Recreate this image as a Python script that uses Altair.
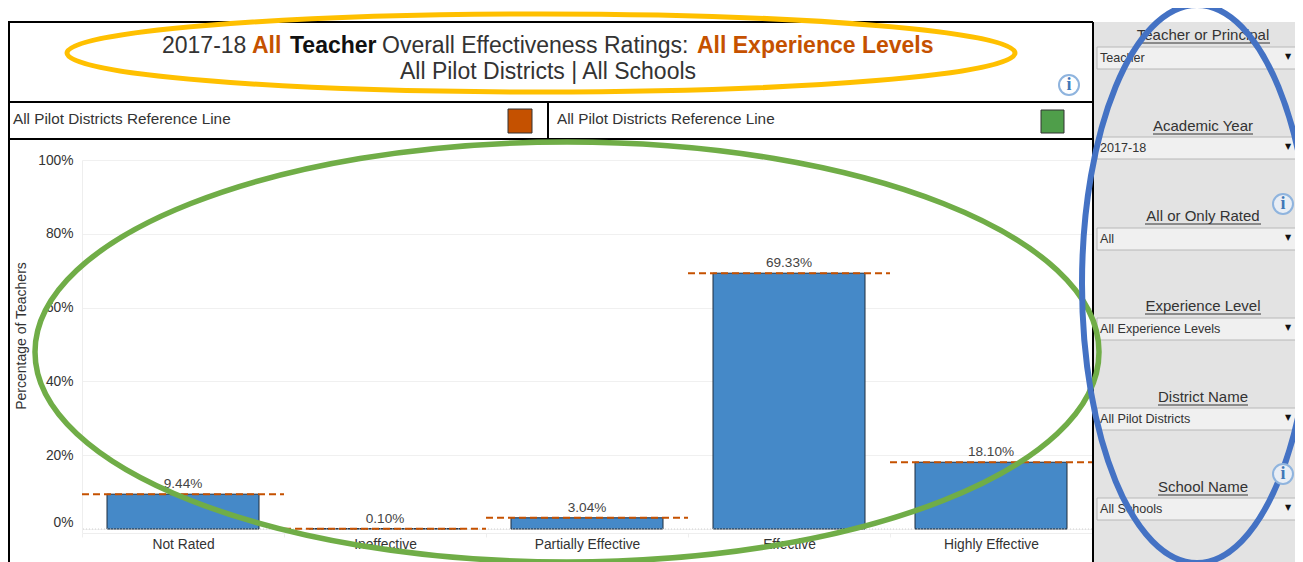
import altair as alt
import pandas as pd

categories = ["Not Rated", "Ineffective", "Partially Effective", "Effective", "Highly Effective"]
teacher_pct = [9.44, 0.10, 3.04, 69.33, 18.10]
reference_pct = [9.44, 0.10, 3.04, 69.33, 18.10]
filter_labels = ["Teacher or Principal", "Academic Year", "All or Only Rated", "Experience Level", "District Name", "School Name"]
filter_values = ["Teacher", "2017-18", "All", "All Experience Levels", "All Pilot Districts", "All Schools"]

FONT = "Liberation Sans"
OX, OY = 82, 160          # plot origin in picture pixels
W, H = 1010, 373
ORANGE = "#c55100"
one = alt.Data(values=[{"a": 1}])
layers = []


def rect(x0, y0, x1, y1, fill, stroke=None, sw=0):
    kw = {"fill": fill}
    if stroke:
        kw.update(stroke=stroke, strokeWidth=sw)
    layers.append(alt.Chart(one).mark_rect(**kw).encode(
        x=alt.value(x0 - OX), x2=alt.value(x1 - OX), y=alt.value(y0 - OY), y2=alt.value(y1 - OY)))


def line(x0, y0, x1, y1, color="#000000", sw=2):
    layers.append(alt.Chart(one).mark_rule(color=color, strokeWidth=sw).encode(
        x=alt.value(x0 - OX), x2=alt.value(x1 - OX), y=alt.value(y0 - OY), y2=alt.value(y1 - OY)))


def text(x, y, s, size=13, color="#333333", align="left", bold=False, angle=0, font=FONT):
    layers.append(alt.Chart(one).mark_text(
        text=s, font=font, fontSize=size, color=color, align=align, baseline="middle",
        fontWeight="bold" if bold else "normal", angle=angle).encode(
        x=alt.value(x - OX), y=alt.value(y - OY)))


def ellipse(cx, cy, rx, ry, color, sw):
    path = f"M{-rx},0 A{rx},{ry} 0 1,1 {rx},0 A{rx},{ry} 0 1,1 {-rx},0 Z"
    layers.append(alt.Chart(one).mark_point(
        shape=path, size=4, filled=False, stroke=color, strokeWidth=sw, opacity=1).encode(
        x=alt.value(cx - OX), y=alt.value(cy - OY)))


def info(cx, cy, fill="#ffffff"):
    layers.append(alt.Chart(one).mark_point(
        shape="circle", size=400, filled=True, fill=fill, stroke="#8fb4de", strokeWidth=2, opacity=1).encode(
        x=alt.value(cx - OX), y=alt.value(cy - OY)))
    text(cx, cy, "i", size=18, color="#3f78b8", align="center", bold=True, font="Liberation Serif")


# right-hand filter panel
rect(1093, 22, 1303, 562, "#e3e3e3")
label_y = [35, 126, 216, 306, 397, 487]
label_half = [67, 50, 58, 58, 45, 45]
box_y = [47, 137, 228, 318, 408, 498]
for lab, val, ly, hw, by in zip(filter_labels, filter_values, label_y, label_half, box_y):
    text(1203, ly, lab, size=15, align="center")
    line(1203 - hw, ly + 8, 1203 + hw, ly + 8, "#333333", 1)
    rect(1097, by, 1303, by + 22, "#f0f0f0", "#b8b8b8", 1)
    text(1100, by + 11, val, size=12.6)
    text(1288, by + 10, "▼", size=8, color="#111111", align="center", font="DejaVu Sans")

# frame of the left part
line(8, 22, 1093, 22)
line(8, 102, 1093, 102)
line(8, 139, 1093, 139)
line(548, 102, 548, 139)
line(1093, 22, 1093, 562)
line(9, 22, 9, 562, "#000000", 2)

# legend strip
text(13, 119, "All Pilot Districts Reference Line", size=15.3)
text(557, 119, "All Pilot Districts Reference Line", size=15.3)
rect(508, 109, 532, 133, ORANGE, "#333333", 1)
rect(1041, 110, 1064, 133, "#4f9e4a", "#333333", 1)

# title pieces
text(162, 46, "2017-18", size=23)
text(252, 46, "All", size=23, color=ORANGE, bold=True)
text(290, 46, "Teacher", size=23, color="#111111", bold=True)
text(382, 46, "Overall Effectiveness Ratings:", size=23)
text(697, 46, "All Experience Levels", size=23, color=ORANGE, bold=True)
text(548, 72, "All Pilot Districts | All Schools", size=23, align="center")
info(1069, 85)

# y title
text(22, 336, "Percentage of Teachers", size=14, align="center", angle=270)

df = pd.DataFrame({
    "category": categories,
    "pct": teacher_pct,
    "label": [f"{v:.2f}%" for v in teacher_pct],
})
ref = pd.DataFrame({
    "start": list(range(len(categories))),
    "end": [i + 1 for i in range(len(categories))],
    "ref": reference_pct,
})

y_scale = alt.Scale(domain=[-1.08, 100], nice=False, zero=False)
x_enc = alt.X(
    "category:N", sort=categories, title=None,
    scale=alt.Scale(paddingInner=0, paddingOuter=0),
    axis=alt.Axis(labelAngle=0, labelFont=FONT, labelFontSize=13.8, labelColor="#333333",
                  tickBand="extent", tickColor="#eeeeee", tickSize=4, domainColor="#eeeeee",
                  labelPadding=0, grid=False),
)
y_enc = alt.Y(
    "pct:Q", scale=y_scale, title=None,
    axis=alt.Axis(values=[0, 20, 40, 60, 80, 100], labelExpr="datum.value + '%'",
                  labelFont=FONT, labelFontSize=13.8, labelColor="#333333", labelPadding=9,
                  labelBaseline={"condition": {"test": "datum.value === 0", "value": "bottom"}, "value": "middle"},
                  tickSize=0, domainColor="#eeeeee", gridColor="#f0f0f0", grid=True),
)
bars = alt.Chart(df).mark_bar(size=152, fill="#4589c8", stroke="#1f2d3d", strokeWidth=1).encode(x=x_enc, y=y_enc)
labels = alt.Chart(df).mark_text(font=FONT, fontSize=13.6, color="#444444", baseline="bottom", dy=-3).encode(
    x=alt.X("category:N", sort=categories, axis=None), y=alt.Y("pct:Q", scale=y_scale), text="label:N")
zero = alt.Chart(pd.DataFrame({"z": [0]})).mark_rule(color="#d0d0d0", strokeDash=[1, 2]).encode(
    y=alt.Y("z:Q", scale=y_scale))
refs = alt.Chart(ref).mark_rule(color=ORANGE, strokeWidth=2, strokeDash=[7, 4]).encode(
    x=alt.X("start:Q", scale=alt.Scale(domain=[0, 5], nice=False), axis=None),
    x2="end:Q",
    y=alt.Y("ref:Q", scale=y_scale),
)

front = []
saved = layers
layers = front
ellipse(541, 53, 474, 39, "#ffc000", 5)
ellipse(567, 352, 532, 210, "#70ad47", 5.5)
ellipse(1197, 284, 115, 279, "#4472c4", 6)
info(1283, 204, "#e9eef5")
info(1283, 474, "#e9eef5")
layers = saved

chart = alt.layer(bars, zero, *layers, labels, refs, *front).resolve_scale(x="independent").properties(
    width=W, height=H,
    padding={"left": OX - 8, "top": OY - 8, "right": 1295 - OX - W, "bottom": 562 - OY - H},
    autosize=alt.AutoSizeParams(type="none"),
).configure_view(stroke=None).configure_axis(labelOverlap=False)

chart.save("out.html", embed_options={"renderer": "svg", "actions": False})
